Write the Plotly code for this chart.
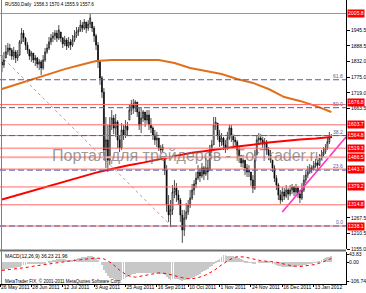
import plotly.graph_objects as go

# ---------------- data ----------------
bars = list(range(169))

opens = [1830,1820,1845,1867,1881,1874,1852,1867,1845,1856,
         1903,1935,1917,1892,1874,1852,1863,1838,1845,1823,
         1831,1809,1838,1867,1881,1903,1917,1925,1935,1917,
         1939,1917,1896,1910,1888,1903,1892,1910,1925,1939,
         1946,1964,1953,1975,1953,1968,1975,1953,1925,1892,
         1831,1773,1722,1513,1549,1476,1603,1628,1592,1614,
         1549,1520,1585,1567,1599,1621,1657,1679,1664,1686,
         1650,1603,1628,1650,1621,1639,1603,1592,1567,1549,
         1556,1520,1513,1484,1440,1314,1278,1296,1361,1375,
         1350,1332,1278,1224,1267,1289,1314,1339,1368,1390,
         1411,1433,1419,1448,1426,1448,1440,1513,1531,1603,
         1610,1567,1542,1556,1531,1520,1556,1592,1567,1549,
         1542,1513,1484,1466,1476,1448,1433,1433,1404,1375,
         1495,1549,1556,1549,1534,1542,1513,1495,1476,1448,
         1411,1386,1350,1332,1361,1346,1368,1354,1368,1379,
         1361,1375,1354,1339,1368,1404,1422,1433,1448,1440,
         1455,1466,1458,1484,1495,1505,1520,1542,1558.3]

highs = [1856,1867,1892,1899,1896,1881,1885,1874,1874,1910,
         1953,1946,1921,1903,1878,1870,1863,1856,1849,1841,
         1838,1856,1881,1896,1921,1932,1939,1946,1946,1964,
         1939,1921,1925,1917,1921,1914,1928,1946,1957,1957,
         1982,1975,1986,1975,1982,2005.8,1975,1961,1932,1903,
         1838,1780,1737,1632,1603,1632,1657,1639,1643,1621,
         1567,1610,1603,1621,1614,1679,1693,1697,1693,1686,
         1664,1668,1657,1650,1657,1657,1628,1599,1585,1578,
         1556,1531,1534,1484,1458,1350,1332,1386,1404,1393,
         1368,1339,1296,1296,1321,1332,1368,1390,1404,1433,
         1458,1448,1466,1455,1484,1476,1531,1549,1632,1632,
         1610,1585,1574,1560,1549,1578,1603,1603,1567,1560,
         1549,1523,1495,1491,1476,1462,1458,1433,1422,1513,
         1567,1574,1570,1560,1556,1549,1523,1513,1476,1458,
         1422,1393,1368,1379,1375,1386,1375,1386,1390,1383,
         1390,1383,1368,1393,1422,1440,1455,1462,1458,1473,
         1480,1476,1498,1513,1523,1534,1560,1578,1570.4]

lows = [1794,1809,1845,1856,1852,1838,1838,1827,1834,1852,
        1896,1903,1874,1860,1838,1831,1827,1816,1809,1802,
        1784,1802,1831,1860,1874,1892,1903,1910,1903,1910,
        1903,1881,1888,1874,1881,1874,1885,1903,1917,1925,
        1939,1939,1946,1935,1943,1953,1939,1903,1874,1809,
        1748,1701,1476,1448,1433,1458,1585,1570,1560,1520,
        1505,1513,1549,1556,1563,1621,1639,1643,1650,1632,
        1585,1574,1614,1596,1607,1585,1574,1549,1531,1523,
        1509,1502,1505,1422,1289,1253,1234,1278,1339,1325,
        1314,1253,1177,1202,1260,1278,1303,1332,1350,1375,
        1404,1397,1411,1404,1419,1404,1440,1502,1531,1585,
        1549,1523,1527,1513,1502,1513,1549,1542,1527,1523,
        1495,1466,1451,1448,1422,1415,1415,1383,1357,1368,
        1495,1531,1534,1520,1513,1495,1476,1466,1433,1397,
        1368,1332,1318,1325,1332,1339,1332,1346,1354,1346,
        1350,1339,1321,1332,1361,1393,1411,1426,1429,1440,
        1448,1444,1455,1476,1487,1498,1513,1534,1555.9]

closes = [1820,1838,1867,1881,1874,1852,1867,1845,1856,1903,
          1935,1917,1892,1874,1852,1863,1838,1845,1823,1831,
          1809,1838,1867,1881,1903,1917,1925,1935,1917,1946,
          1917,1896,1910,1888,1903,1892,1910,1925,1939,1946,
          1964,1953,1975,1953,1968,1990,1953,1925,1892,1831,
          1773,1722,1513,1549,1476,1603,1628,1592,1614,1549,
          1520,1585,1567,1599,1585,1657,1679,1664,1686,1650,
          1603,1628,1650,1621,1639,1603,1592,1567,1549,1556,
          1520,1513,1523,1440,1314,1278,1296,1361,1375,1350,
          1332,1278,1224,1267,1289,1314,1339,1368,1390,1411,
          1433,1419,1448,1426,1448,1433,1513,1531,1603,1614,
          1567,1542,1556,1531,1520,1556,1592,1567,1549,1542,
          1513,1484,1466,1476,1448,1433,1440,1404,1375,1476,
          1549,1556,1549,1534,1542,1513,1495,1476,1448,1411,
          1386,1350,1332,1361,1346,1368,1354,1368,1379,1361,
          1375,1354,1339,1368,1404,1422,1433,1448,1440,1455,
          1466,1458,1484,1495,1505,1520,1542,1556,1557.6]

ma_bars = [0,8,16,24,32,40,48,56,64,72,80,88,96,104,112,120,128,136,144,152,160,168]
ma_slow = [1733,1751,1769,1787,1805,1820,1834,1838,1838,1838,1838,1827,1809,1798,1787,1769,1755,1733,1704,1690,1672,1650]
ma_red = [1334,1350,1366,1382,1399,1415,1431,1444,1457,1467,1478,1489,1502,1509,1518,1525,1532,1540,1545,1551,1554,1560]

macd_main = [-45,-43,-40,-37,-35,-33,-31,-30,-29,-26,
             -20,-16,-13,-11,-9,-8,-7,-6,-6,-7,
             -9,-7,-4,0,4,8,12,15,17,20,
             20,18,17,16,15,15,16,18,21,24,
             27,29,32,33,34,37,36,32,25,14,
             0,-15,-45,-62,-80,-88,-92,-98,-104,-106.74,
             -104,-100,-96,-92,-86,-80,-73,-68,-64,-62,
             -62,-62,-61,-60,-60,-60,-61,-62,-63,-64,
             -66,-68,-69,-75,-86,-95,-99,-98,-97,-97,
             -97,-99,-104,-103,-101,-98,-94,-89,-83,-77,
             -70,-64,-57,-51,-44,-38,-29,-20,-8,3,
             12,22,32,43.83,40,38,39,38,36,33,
             29,24,18,13,8,4,1,-3,-8,-6,
             0,3,5,6,6,5,3,0,-4,-9,
             -14,-19,-23,-26,-28,-28,-27,-26,-25,-24,
             -23,-22,-21,-19,-16,-13,-10,-7,-4,-1,
             2,6,10,14,18,23,28,32,36.23]

sig_bars = [0,4,8,12,16,20,24,28,32,36,40,44,48,52,56,60,64,68,72,76,80,84,
            88,92,96,100,104,108,112,116,120,124,128,132,136,140,144,148,152,156,160,164,168]
macd_signal = [-46,-42,-37,-30,-22,-15,-9,-3,5,10,15,21,25,20,-5,-45,-75,-85,-78,-68,-60,-64,
               -76,-88,-95,-88,-72,-48,-15,15,33,30,20,10,5,1,-10,-20,-24,-20,-12,4,21.96]

trend_bars = [143, 175.5]
trend_vals = [1289, 1560]
diag_bars = [-1, 84.7]
diag_vals = [1856, 1250]

level_vals = [2005.8, 1676.8, 1603.7, 1564.8, 1519.3, 1486.5, 1443.7, 1379.2, 1314.8, 1238.1]
level_labels = ["2005.8", "1676.8", "1603.7", "1564.8", "1519.3", "1486.5", "1443.7", "1379.2", "1314.8", "1238.1"]

fib_vals = [1766.5, 1665.6, 1564.8, 1439.9, 1238.1]
fib_labels = ["61.8", "50.0", "38.2", "23.6", "0.0"]

price_ticks = [1945.5, 1888.5, 1832.0, 1775.0, 1719.0, 1663.5, 1267.5, 1210.5, 1155.0]
price_tick_labels = ["1945.5", "1888.5", "1832.0", "1775.0", "1719.0", "1663.5", "1267.5", "1210.5", "1155.0"]

macd_ticks = [43.83, 0.0, -106.74]
macd_tick_labels = ["43.83", "0.00", "-106.74"]

date_ticks = [-1, 15, 31, 47, 63, 79, 95, 111, 127, 143, 159]
date_labels = ["26 May 2011", "28 Jun 2011", "12 Jul 2011", "3 Aug 2011", "25 Aug 2011", "16 Sep 2011",
               "10 Oct 2011", "1 Nov 2011", "24 Nov 2011", "16 Dec 2011", "13 Jan 2012"]

# ---------------- figure ----------------
W, H = 366, 293
PLOT_H = 284.0
XR = 346.0 / W
FONT = "Liberation Sans, Arial, sans-serif"

fig = go.Figure()

fig.add_trace(go.Candlestick(
    x=bars, open=opens, high=highs, low=lows, close=closes,
    xaxis="x", yaxis="y", whiskerwidth=0,
    increasing=dict(line=dict(color="#000000", width=0.7), fillcolor="#ffffff"),
    decreasing=dict(line=dict(color="#000000", width=0.7), fillcolor="#000000"),
    hoverinfo="skip", showlegend=False))

fig.add_trace(go.Scatter(x=ma_bars, y=ma_slow, mode="lines", xaxis="x", yaxis="y",
                         line=dict(color="#e0701e", width=2), hoverinfo="skip", showlegend=False))
fig.add_trace(go.Scatter(x=ma_bars, y=ma_red, mode="lines", xaxis="x", yaxis="y",
                         line=dict(color="#ff0000", width=2), hoverinfo="skip", showlegend=False))
fig.add_trace(go.Scatter(x=trend_bars, y=trend_vals, mode="lines", xaxis="x", yaxis="y",
                         line=dict(color="#ff33cc", width=1.6), hoverinfo="skip", showlegend=False))
fig.add_trace(go.Scatter(x=diag_bars, y=diag_vals, mode="lines", xaxis="x", yaxis="y",
                         line=dict(color="#ff8080", width=1, dash="dot"), hoverinfo="skip", showlegend=False))

fig.add_trace(go.Bar(x=bars, y=macd_main, xaxis="x2", yaxis="y2", width=0.45,
                     marker=dict(color="#c8c8c8", line=dict(width=0)), hoverinfo="skip", showlegend=False))
fig.add_trace(go.Scatter(x=sig_bars, y=macd_signal, mode="lines", xaxis="x2", yaxis="y2",
                         line=dict(color="#ff0000", width=1, dash="dot"), hoverinfo="skip", showlegend=False))

shapes = []
for v in level_vals:
    wide = (v == 1486.5)
    shapes.append(dict(type="line", xref="paper", x0=0, x1=XR, yref="y", y0=v, y1=v,
                       line=dict(color="#ffa8a8" if wide else "#ff6a6a", width=2 if wide else 1)))
for v in fib_vals:
    shapes.append(dict(type="line", xref="paper", x0=0, x1=XR, yref="y", y0=v, y1=v,
                       line=dict(color="#5a5aa0", width=1, dash="6px,3px")))
# panel separator and left border
sep_y = (PLOT_H - 250.5) / PLOT_H
shapes.append(dict(type="line", xref="paper", yref="paper", x0=0, x1=XR, y0=sep_y, y1=sep_y,
                   line=dict(color="#707070", width=2)))
shapes.append(dict(type="line", xref="paper", yref="paper", x0=1.5 / W, x1=1.5 / W, y0=0, y1=1,
                   line=dict(color="#808080", width=1)))

annotations = []
# watermark
annotations.append(dict(text="Портал для трейдеров - ForTrader.ru", xref="paper", yref="paper",
                        x=50 / W, y=(PLOT_H - 155) / PLOT_H, xanchor="left", yanchor="middle",
                        showarrow=False, font=dict(family=FONT, size=16, color="rgba(110,110,110,0.7)")))
# level boxes on the price scale
for v, t in zip(level_vals, level_labels):
    annotations.append(dict(text=t, xref="paper", yref="y", x=XR, y=v, xanchor="left", yanchor="middle",
                            xshift=1, yshift=2.5 if t == "1676.8" else 0, showarrow=False,
                            bgcolor="#ff0000", borderpad=0.3,
                            font=dict(family=FONT, size=5, color="#ffffff")))
# fibo labels
for v, t in zip(fib_vals, fib_labels):
    annotations.append(dict(text=t, xref="paper", yref="y", x=XR, y=v, xanchor="right", yanchor="bottom",
                            xshift=-1, yshift=-1, showarrow=False,
                            font=dict(family=FONT, size=5, color="#5a5aa0")))
annotations.append(dict(text="RUS50,Daily  1558.3 1570.4 1555.9 1557.6", xref="paper", yref="paper",
                        x=3 / W, y=(PLOT_H - 5) / PLOT_H, xanchor="left", yanchor="middle", showarrow=False,
                        font=dict(family=FONT, size=4.6, color="#000000")))
annotations.append(dict(text="MACD(12,26,9) 36.23 21.96", xref="paper", yref="paper",
                        x=3 / W, y=(PLOT_H - 255.5) / PLOT_H, xanchor="left", yanchor="middle", showarrow=False,
                        font=dict(family=FONT, size=5, color="#000000")))
annotations.append(dict(text="MetaTrader FIX, © 2001-2011 MetaQuotes Software Corp.", xref="paper", yref="paper",
                        x=3 / W, y=(PLOT_H - 280.5) / PLOT_H, xanchor="left", yanchor="middle", showarrow=False,
                        font=dict(family=FONT, size=4.5, color="#000000")))

fig.update_layout(
    width=W, height=H, template="none",
    margin=dict(l=0, r=0, t=0, b=9, pad=0),
    paper_bgcolor="#ffffff", plot_bgcolor="#ffffff",
    showlegend=False, bargap=0,
    font=dict(family=FONT, size=5, color="#000000"),
    xaxis=dict(domain=[0, XR], range=[-1, 175.5], anchor="y", showticklabels=False, ticks="",
               showgrid=False, zeroline=False, showline=False, rangeslider=dict(visible=False),
               automargin=False),
    xaxis2=dict(domain=[0, XR], matches="x", anchor="y2", tickvals=date_ticks, ticktext=date_labels,
                ticks="outside", ticklen=2, tickcolor="#000000", ticklabelposition="outside right",
                tickangle=0, ticklabelstandoff=-2,
                tickfont=dict(family=FONT, size=5, color="#000000"), showgrid=False, zeroline=False,
                showline=True, linecolor="#000000", linewidth=1, automargin=False),
    yaxis=dict(domain=[(PLOT_H - 249) / PLOT_H, 1], range=[1155.0, 2054.6], anchor="x", side="right",
               tickvals=price_ticks, ticktext=price_tick_labels, ticks="outside", ticklen=3,
               tickcolor="#000000", tickfont=dict(family=FONT, size=5, color="#000000"),
               showgrid=False, zeroline=False, showline=True, linecolor="#000000", linewidth=1,
               automargin=False),
    yaxis2=dict(domain=[0, (PLOT_H - 252) / PLOT_H], range=[-123.9, 59.3], anchor="x2", side="right",
                tickvals=macd_ticks, ticktext=macd_tick_labels, ticks="outside", ticklen=2,
                ticklabelstandoff=-1,
                tickcolor="#000000", tickfont=dict(family=FONT, size=5, color="#000000"),
                showgrid=False, zeroline=False, showline=True, linecolor="#000000", linewidth=1,
                automargin=False),
    shapes=shapes, annotations=annotations,
)

fig.write_html("out.html")
